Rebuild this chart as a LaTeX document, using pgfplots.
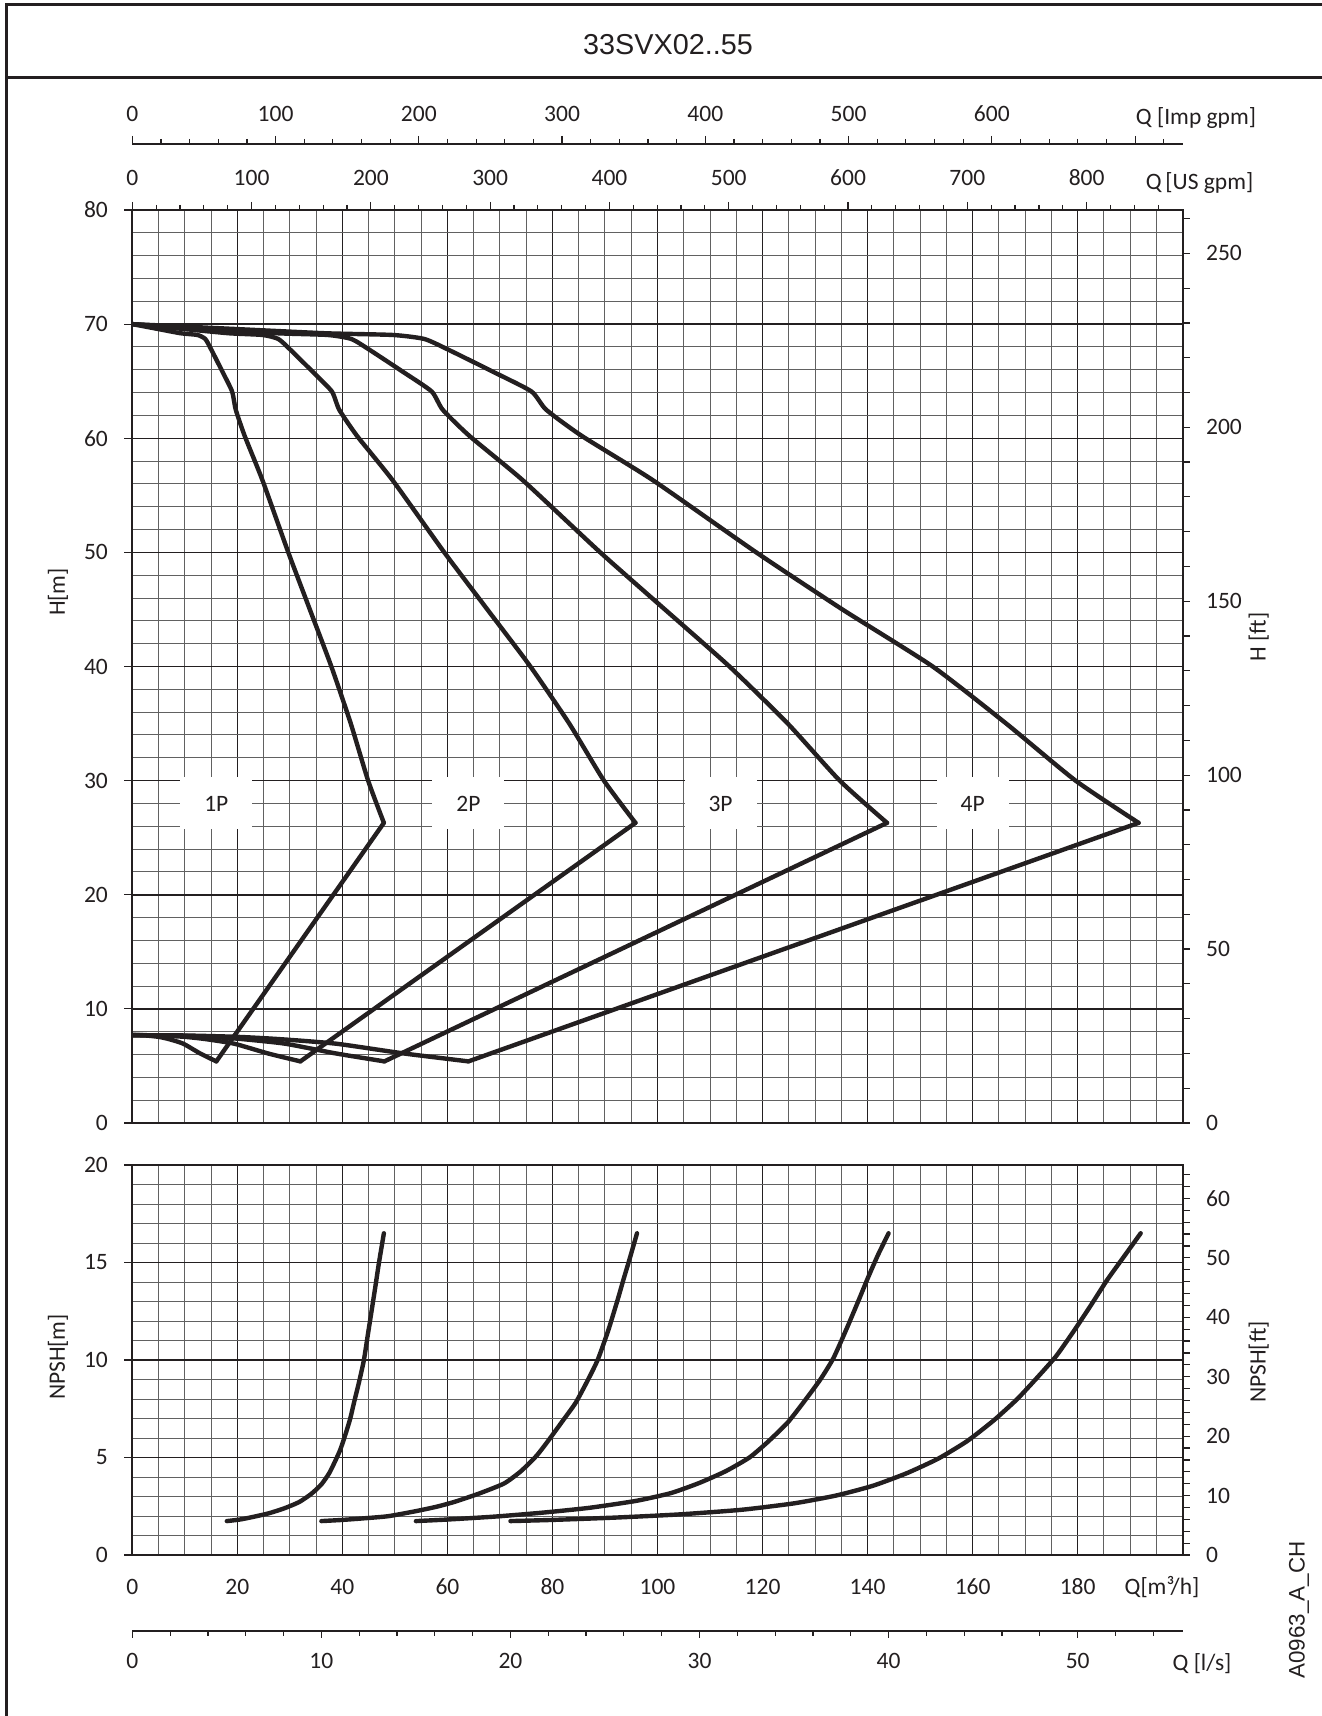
\documentclass[border=0pt]{standalone}
\usepackage{pgfplots}
\pgfplotsset{compat=1.18}
\usepackage{fontspec}
\setmainfont{Carlito}
\newfontfamily\arialfont{Liberation Sans}
\definecolor{ink}{RGB}{35,31,32}
\begin{document}
\begin{tikzpicture}[font=\fontsize{11.75}{14}\selectfont, text=ink]
\path[use as bounding box] (0pt,0pt) rectangle (660.5pt,-858pt);
\draw[ink, line width=1.5pt] (3.35pt,-858pt) -- (3.35pt,-2.5pt) -- (661pt,-2.5pt);
\draw[ink, line width=1.5pt] (3.35pt,-39pt) -- (661pt,-39pt);
\node[font=\arialfont\fontsize{14.4}{16}\selectfont, text=ink] at (334pt,-22.2pt) {33SVX02..55};
\node[rotate=90, text=ink, font=\arialfont\fontsize{11.2}{13}\selectfont] at (649.5pt,-805pt) {A0963\_A\_CH};
\pgfplotsset{
  every axis/.append style={
    scale only axis,
    /pgf/number format/assume math mode=true,
    axis line style={ink, line width=0.9pt},
    tick style={ink, line width=0.6pt},
    tick label style={font=\fontsize{11.75}{14}\selectfont, text=ink, inner sep=0pt},
    tick align=outside,
  },
  mygrid/.style={grid=both,
    major grid style={ink, line width=0.75pt},
    minor grid style={black!62, line width=0.5pt}},
  curve/.style={ink, line width=2.2pt, line join=round, line cap=round},
  scurve/.style={curve, smooth, tension=0.35},
}
% ---------------- main H plot ----------------
\begin{axis}[mygrid,
  at={(66.15pt,-561.5pt)}, anchor=south west,
  width=525.2pt, height=456.5pt,
  xmin=0, xmax=200, ymin=0, ymax=80,
  xtick={0,20,...,200}, minor xtick={0,5,...,200},
  ytick={0,10,...,80}, minor ytick={0,2,...,80},
  xticklabels={}, xtick style={draw=none},
  ytick pos=left, major tick length=4pt, minor tick length=0pt,
  yticklabel style={anchor=east, xshift=-8pt},
]
\node[fill=white, inner sep=0pt, minimum width=36pt, minimum height=26pt] at (axis cs:16,28) {1P};
\node[fill=white, inner sep=0pt, minimum width=36pt, minimum height=26pt] at (axis cs:64,28) {2P};
\node[fill=white, inner sep=0pt, minimum width=36pt, minimum height=26pt] at (axis cs:112,28) {3P};
\node[fill=white, inner sep=0pt, minimum width=36pt, minimum height=26pt] at (axis cs:160,28) {4P};
% 1P
\addplot[scurve] coordinates {(0,70) (4.6,69.6) (9.2,69.2) (12.4,69.05) (13.9,68.7) (15.0,67.8) (17.2,65.8) (19.0,64.1) (19.7,62.5) (21.4,60.2) (24.8,56.3) (29.7,50.0) (33.8,45.0) (37.9,40.0) (41.6,35.0) (44.9,30.0) (47.9,26.3)};
\addplot[curve] coordinates {(47.9,26.3) (16.0,5.4)};
\addplot[scurve] coordinates {(16.0,5.4) (12.9,6.1) (9.7,6.95) (7.0,7.35) (5.0,7.55) (2.5,7.67) (0,7.7)};
% 2P
\addplot[scurve] coordinates {(0,70) (9.2,69.6) (18.4,69.2) (24.8,69.05) (27.8,68.7) (30.0,67.8) (34.4,65.8) (38.0,64.1) (39.4,62.5) (42.8,60.2) (49.6,56.3) (59.4,50.0) (67.6,45.0) (75.8,40.0) (83.2,35.0) (89.8,30.0) (95.8,26.3)};
\addplot[curve] coordinates {(95.8,26.3) (32.0,5.4)};
\addplot[scurve] coordinates {(32.0,5.4) (25.8,6.1) (19.4,6.95) (14.0,7.35) (10.0,7.55) (5.0,7.67) (0,7.7)};
% 3P
\addplot[scurve] coordinates {(0,70) (13.8,69.6) (27.6,69.2) (37.2,69.05) (41.7,68.7) (45.0,67.8) (51.6,65.8) (57.0,64.1) (59.1,62.5) (64.2,60.2) (74.4,56.3) (89.1,50.0) (101.4,45.0) (113.7,40.0) (124.8,35.0) (134.7,30.0) (143.7,26.3)};
\addplot[curve] coordinates {(143.7,26.3) (48.0,5.4)};
\addplot[scurve] coordinates {(48.0,5.4) (38.7,6.1) (29.1,6.95) (21.0,7.35) (15.0,7.55) (7.5,7.67) (0,7.7)};
% 4P
\addplot[scurve] coordinates {(0,70) (18.4,69.6) (36.8,69.2) (49.6,69.05) (55.6,68.7) (60.0,67.8) (68.8,65.8) (76.0,64.1) (78.8,62.5) (85.6,60.2) (99.2,56.3) (118.8,50.0) (135.2,45.0) (152.4,40.0) (166.4,35.0) (179.6,30.0) (191.6,26.3)};
\addplot[curve] coordinates {(191.6,26.3) (64.0,5.4)};
\addplot[scurve] coordinates {(64.0,5.4) (51.6,6.1) (38.8,6.95) (28.0,7.35) (20.0,7.55) (10.0,7.67) (0,7.7)};
\end{axis}
% right H [ft]
\begin{axis}[
  at={(66.15pt,-561.5pt)}, anchor=south west,
  width=525.2pt, height=456.5pt,
  xmin=0, xmax=200, ymin=0, ymax=262.467,
  hide x axis, axis y line*=right,
  ytick={0,50,...,250}, minor ytick={0,10,...,260},
  major tick length=3.5pt, minor tick length=3.5pt,
  yticklabel style={anchor=west, xshift=8pt},
]
\end{axis}
% top US gpm
\begin{axis}[
  at={(66.15pt,-561.5pt)}, anchor=south west,
  width=525.2pt, height=456.5pt,
  xmin=0, xmax=880.57, ymin=0, ymax=1,
  hide y axis, axis x line*=top,
  xtick={0,100,...,800}, minor xtick={0,20,...,860},
  major tick length=4pt, minor tick length=2.5pt,
  xticklabel style={anchor=base, yshift=8.2pt},
]
\end{axis}
% Imp gpm
\begin{axis}[
  at={(66.15pt,-72pt)}, anchor=north west,
  width=525.2pt, height=10pt,
  xmin=0, xmax=733.23, ymin=0, ymax=1,
  hide y axis, axis x line*=top,
  xtick={0,100,...,700}, xticklabels={0,100,200,300,400,500,600,{}},
  minor xtick={0,20,...,720},
  major tick length=4pt, minor tick length=2.5pt,
  xticklabel style={anchor=base, yshift=7pt},
]
\end{axis}
% ---------------- NPSH plot ----------------
\begin{axis}[mygrid,
  at={(66.15pt,-777.5pt)}, anchor=south west,
  width=525.2pt, height=195pt,
  xmin=0, xmax=200, ymin=0, ymax=20,
  xtick={0,20,...,200}, minor xtick={0,5,...,200},
  xticklabels={0,20,40,60,80,100,120,140,160,180,{}},
  xtick style={draw=none},
  ytick={0,5,...,20}, minor ytick={0,1,...,20},
  ytick pos=left, major tick length=4pt, minor tick length=0pt,
  xticklabel style={anchor=base, yshift=-15.9pt},
  yticklabel style={anchor=east, xshift=-8pt},
]
\addplot[scurve] coordinates {(18.0,1.74) (20.5,1.82) (23.1,1.96) (26.0,2.14) (29.0,2.4) (31.8,2.72) (34.1,3.14) (36.0,3.62) (37.5,4.2) (38.6,4.8) (39.6,5.4) (40.6,6.2) (41.5,7.0) (42.2,7.8) (43.2,8.9) (44.1,10.0) (44.85,11.3) (45.55,12.5) (46.3,13.8) (46.97,15.0) (47.9,16.5)};
\addplot[scurve] coordinates {(36.0,1.74) (40.0,1.80) (44.0,1.88) (48.7,1.99) (54.0,2.25) (58.0,2.48) (61.4,2.73) (66.0,3.15) (70.8,3.67) (74.0,4.3) (77.0,5.1) (79.3,5.9) (82.0,6.9) (84.4,7.8) (86.6,8.9) (88.6,10.0) (90.6,11.5) (92.4,13.08) (93.6,14.2) (94.6,15.1) (96.1,16.5)};
\addplot[scurve] coordinates {(54,1.74) (60,1.82) (69,1.97) (78,2.17) (87,2.42) (96,2.78) (102.6,3.18) (108,3.7) (113,4.3) (117.5,5.0) (121,5.8) (124.8,6.8) (128,7.9) (131,9.0) (133.5,10.1) (136,11.6) (138.2,13.0) (140.2,14.3) (142,15.4) (144,16.5)};
\addplot[scurve] coordinates {(72,1.74) (80,1.80) (92,1.92) (104,2.08) (116,2.32) (126,2.65) (134,3.05) (141,3.55) (147.5,4.2) (153.5,4.95) (159,5.85) (164,6.9) (168.5,8.0) (172.3,9.1) (175.9,10.2) (179.3,11.5) (182.5,12.8) (185.6,14.1) (188.8,15.3) (192,16.5)};
\end{axis}
% right NPSH [ft]
\begin{axis}[
  at={(66.15pt,-777.5pt)}, anchor=south west,
  width=525.2pt, height=195pt,
  xmin=0, xmax=200, ymin=0, ymax=65.617,
  hide x axis, axis y line*=right,
  ytick={0,10,...,60}, minor ytick={0,2,...,64},
  major tick length=3.5pt, minor tick length=3.5pt,
  yticklabel style={anchor=west, xshift=8pt},
]
\end{axis}
% l/s axis
\begin{axis}[
  at={(66.15pt,-815.35pt)}, anchor=south west,
  width=525.2pt, height=10pt,
  xmin=0, xmax=55.556, ymin=0, ymax=1,
  hide y axis, axis x line*=bottom,
  xtick={0,10,...,50}, minor xtick={0,2,...,54},
  major tick length=3.5pt, minor tick length=2.5pt,
  xticklabel style={anchor=base, yshift=-15.3pt},
]
\end{axis}
% unit and axis labels
\node[anchor=base] at (598pt,-62.5pt) {Q [Imp gpm]};
\node[anchor=base] at (599.75pt,-94.7pt) {Q\,[US gpm]};
\node[anchor=base] at (581pt,-797.25pt) {Q[m³/h]};
\node[anchor=base] at (601pt,-835pt) {Q [l/s]};
\node[rotate=90] at (29pt,-296pt) {H[m]};
\node[rotate=90] at (629.3pt,-318.5pt) {H [ft]};
\node[rotate=90] at (29pt,-678.5pt) {NPSH[m]};
\node[rotate=90] at (629.3pt,-681pt) {NPSH[ft]};
\end{tikzpicture}
\end{document}
